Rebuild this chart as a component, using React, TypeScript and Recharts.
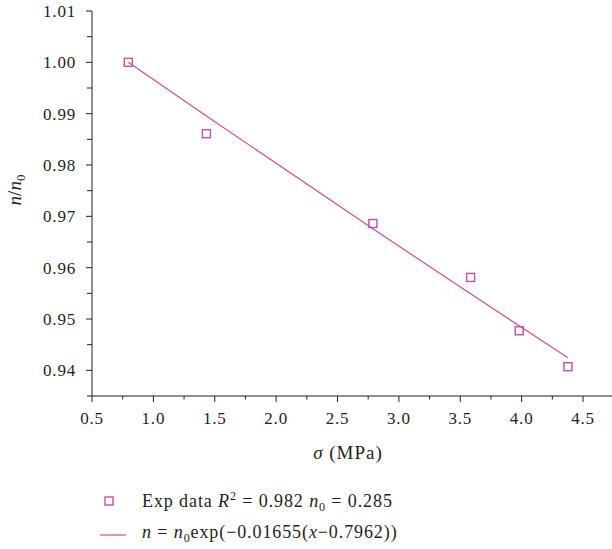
import { ComposedChart, Scatter, Line, XAxis, YAxis, Legend, Label } from "recharts"

// measured stress (MPa) and normalised porosity n/n0
const sigma = [0.796, 1.432, 2.788, 3.584, 3.98, 4.377]
const ratio = [1.0, 0.9861, 0.9686, 0.9581, 0.9477, 0.9407]

// exponential fit n = n0 exp(-k (x - x0))
const fitRate = 0.01655
const fitX0 = 0.7962

const xMajorTicks = [0.5, 1.0, 1.5, 2.0, 2.5, 3.0, 3.5, 4.0, 4.5]
const xMinorTicks = [0.75, 1.25, 1.75, 2.25, 2.75, 3.25, 3.75, 4.25]
const yMajorTicks = [0.94, 0.95, 0.96, 0.97, 0.98, 0.99, 1.0, 1.01]
const yMinorTicks = [0.935, 0.945, 0.955, 0.965, 0.975, 0.985, 0.995, 1.005]

const ink = "#231f20"
const accent = "#c1509f"
const serif = "'Liberation Serif', 'Times New Roman', serif"

const expData = sigma.map((x, i) => ({ x, y: ratio[i] }))
const fitData = sigma.map((x) => ({ x, y: Math.exp(-fitRate * (x - fitX0)) }))

const xTicks = [...xMajorTicks, ...xMinorTicks].sort((a, b) => a - b)
const yTicks = [...yMajorTicks, ...yMinorTicks].sort((a, b) => a - b)

function XTick({ x, y, payload }: any) {
  const major = xMajorTicks.includes(payload.value)
  return (
    <g>
      <line x1={x} x2={x} y1={y} y2={y + (major ? 6 : 3.5)} stroke={ink} strokeWidth={1} />
      {major && (
        <text x={x} y={y + 28} textAnchor="middle" fill={ink} fontSize={17} fontFamily={serif} letterSpacing={0.8}>
          {payload.value.toFixed(1)}
        </text>
      )}
    </g>
  )
}

function YTick({ x, y, payload }: any) {
  const major = yMajorTicks.includes(payload.value)
  return (
    <g>
      <line x1={x} x2={x - (major ? 6 : 5)} y1={y} y2={y} stroke={ink} strokeWidth={1} />
      {major && (
        <text x={x - 16} y={y + 6} textAnchor="end" fill={ink} fontSize={17} fontFamily={serif} letterSpacing={0.8}>
          {payload.value.toFixed(2)}
        </text>
      )}
    </g>
  )
}

const SquareMarker = ({ cx, cy }: any) => (
  <rect x={cx - 4} y={cy - 4} width={8} height={8} fill="none" stroke={accent} strokeWidth={1.4} />
)

function LegendBox() {
  return (
    <svg width={420} height={62} style={{ display: "block" }}>
      <rect x={9} y={11} width={8} height={8} fill="none" stroke={accent} strokeWidth={1.4} />
      <text x={46} y={21} fill={ink} fontSize={18} fontFamily={serif} letterSpacing={0.9}>
        Exp data <tspan fontStyle="italic">R</tspan>
        <tspan fontSize={12} dy={-7}>2</tspan>
        <tspan dy={7}> = 0.982 </tspan>
        <tspan fontStyle="italic">n</tspan>
        <tspan fontSize={12} dy={4}>0</tspan>
        <tspan dy={-4}> = 0.285</tspan>
      </text>
      <line x1={4} x2={30} y1={49} y2={49} stroke={accent} strokeWidth={1.2} />
      <text x={46} y={52} fill={ink} fontSize={18} fontFamily={serif} letterSpacing={0.9}>
        <tspan fontStyle="italic">n</tspan> = <tspan fontStyle="italic">n</tspan>
        <tspan fontSize={12} dy={4}>0</tspan>
        <tspan dy={-4}>exp(−0.01655(</tspan>
        <tspan fontStyle="italic">x</tspan>−0.7962))
      </text>
    </svg>
  )
}

export default function App() {
  return (
    <div style={{ position: "absolute", left: 0, top: 0, width: 612, height: 549, background: "#fff" }}>
      <ComposedChart width={612} height={549} margin={{ top: 11, right: 0, left: 0, bottom: 113 }}>
        <XAxis
          type="number"
          dataKey="x"
          domain={[0.5, 4.736]}
          ticks={xTicks}
          interval={0}
          allowDataOverflow
          height={40}
          tickSize={0}
          tickMargin={0}
          tickLine={false}
          axisLine={{ stroke: ink, strokeWidth: 1 }}
          tick={<XTick />}
        >
          <Label
            content={() => (
              <text x={348} y={459} textAnchor="middle" fill={ink} fontSize={19} fontFamily={serif} letterSpacing={1}>
                <tspan fontStyle="italic">σ</tspan> (MPa)
              </text>
            )}
          />
        </XAxis>
        <YAxis
          type="number"
          dataKey="y"
          domain={[0.935, 1.01]}
          ticks={yTicks}
          interval={0}
          allowDataOverflow
          width={92}
          tickSize={0}
          tickMargin={0}
          tickLine={false}
          axisLine={{ stroke: ink, strokeWidth: 1 }}
          tick={<YTick />}
        >
          <Label
            content={() => (
              <text x={21} y={190} transform="rotate(-90 21 190)" textAnchor="middle" fill={ink} fontSize={19} fontFamily={serif}>
                <tspan fontStyle="italic">n</tspan>/<tspan fontStyle="italic">n</tspan>
                <tspan fontSize={13} dy={4}>0</tspan>
              </text>
            )}
          />
        </YAxis>
        <Line
          data={fitData}
          dataKey="y"
          name="fit"
          type="linear"
          stroke={accent}
          strokeWidth={1.2}
          dot={false}
          activeDot={false}
          isAnimationActive={false}
        />
        <Scatter data={expData} dataKey="y" name="Exp data" shape={<SquareMarker />} isAnimationActive={false} />
        <Legend
          verticalAlign="middle"
          align="center"
          layout="horizontal"
          wrapperStyle={{ left: 96, top: 486, width: 420, height: 62 }}
          content={() => <LegendBox />}
        />
      </ComposedChart>
    </div>
  )
}
